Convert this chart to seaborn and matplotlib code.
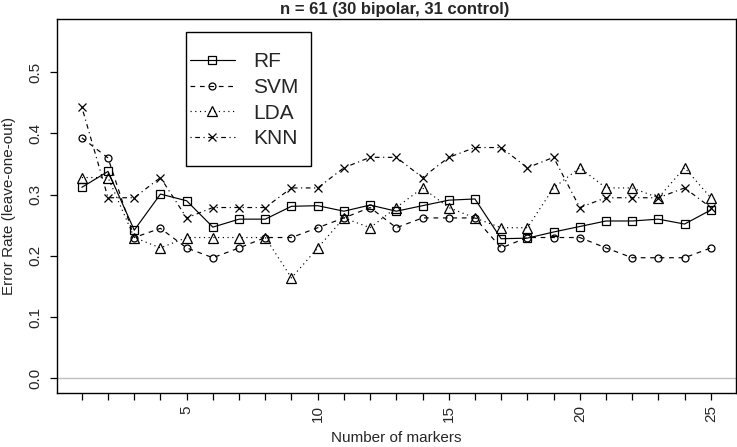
import matplotlib
matplotlib.use("Agg")
import matplotlib.pyplot as plt
from matplotlib.patches import Rectangle
import seaborn as sns

# --- DATA ---
n_markers = list(range(1, 26))

rf = [0.312, 0.338, 0.242, 0.301, 0.290, 0.247, 0.260, 0.260, 0.281, 0.282,
      0.273, 0.283, 0.273, 0.282, 0.291, 0.293, 0.228, 0.229, 0.239, 0.248,
      0.257, 0.257, 0.260, 0.252, 0.275]
svm = [0.393, 0.360, 0.230, 0.245, 0.213, 0.197, 0.213, 0.230, 0.230, 0.246,
       0.262, 0.279, 0.246, 0.262, 0.262, 0.262, 0.213, 0.230, 0.230, 0.230,
       0.213, 0.197, 0.197, 0.197, 0.213]
lda = [0.328, 0.328, 0.230, 0.213, 0.230, 0.230, 0.230, 0.230, 0.164, 0.213,
       0.262, 0.246, 0.279, 0.311, 0.279, 0.262, 0.246, 0.246, 0.311, 0.344,
       0.311, 0.311, 0.295, 0.344, 0.295]
knn = [0.443, 0.295, 0.295, 0.328, 0.262, 0.279, 0.279, 0.279, 0.311, 0.311,
       0.344, 0.361, 0.361, 0.328, 0.361, 0.377, 0.377, 0.344, 0.361, 0.279,
       0.295, 0.295, 0.295, 0.311, 0.279]

series_names = ["RF", "SVM", "LDA", "KNN"]
series_values = [rf, svm, lda, knn]

TITLE = "n = 61 (30 bipolar, 31 control)"
X_LABEL = "Number of markers"
Y_LABEL = "Error Rate (leave-one-out)"

# --- STYLE ---
sns.set_style("ticks")
plt.rcParams["font.family"] = ["Liberation Sans", "DejaVu Sans"]

styles = {
    "RF":  dict(marker="s", linestyle="-", markersize=5.3),
    "SVM": dict(marker="o", linestyle=(0, (4, 4)), markersize=5.0),
    "LDA": dict(marker="^", linestyle=(0, (1, 3)), markersize=6.8),
    "KNN": dict(marker="x", linestyle=(0, (1, 3, 4, 3)), markersize=5.6),
}

fig = plt.figure(figsize=(7.37, 4.47), dpi=100)
ax = fig.add_axes([0.0769, 0.1215, 0.9217, 0.836])

ax.axhline(0, color="#bebebe", lw=1.0, zorder=0)

for name, vals in zip(series_names, series_values):
    sns.lineplot(x=n_markers, y=vals, ax=ax, color="black", lw=0.85,
                 markerfacecolor="none", markeredgecolor="black",
                 markeredgewidth=0.9, label=name, **styles[name])

ax.set_xlim(0.04, 25.96)
ax.set_ylim(-0.0235, 0.587)

ax.set_xticks(n_markers)
ax.set_xticklabels([str(v) if v % 5 == 0 else "" for v in n_markers],
                   rotation=90, fontsize=11)
ax.set_yticks([0.0, 0.1, 0.2, 0.3, 0.4, 0.5])
ax.set_yticklabels(["0.0", "0.1", "0.2", "0.3", "0.4", "0.5"],
                   rotation=90, va="center", fontsize=11)
ax.tick_params(axis="both", direction="out", length=5, width=0.9,
               color="black")
ax.tick_params(axis="x", pad=4)
ax.tick_params(axis="y", pad=5)

for sp in ax.spines.values():
    sp.set_visible(True)
    sp.set_color("black")
    sp.set_linewidth(1.0)

ax.set_xlabel(X_LABEL, fontsize=11)
ax.set_ylabel(Y_LABEL, fontsize=11)
ax.xaxis.set_label_coords(0.5, -0.102)
ax.yaxis.set_label_coords(-0.060, 0.5)

fig.text(0.535, 0.978, TITLE, ha="center", va="center",
         fontsize=12, fontweight="bold")

# legend: R-style box drawn separately so padding can differ per side
leg = ax.legend(loc="upper left", bbox_to_anchor=(0.196, 0.911),
                frameon=False, borderpad=0, borderaxespad=0,
                fontsize=15, handlelength=2.16, handletextpad=0.87,
                labelspacing=0.32)
ax.add_patch(Rectangle((0.190, 0.607), 0.184, 0.358, transform=ax.transAxes,
                       fill=False, edgecolor="black", lw=1.0, zorder=5))

fig.savefig("out.png", dpi=100)
